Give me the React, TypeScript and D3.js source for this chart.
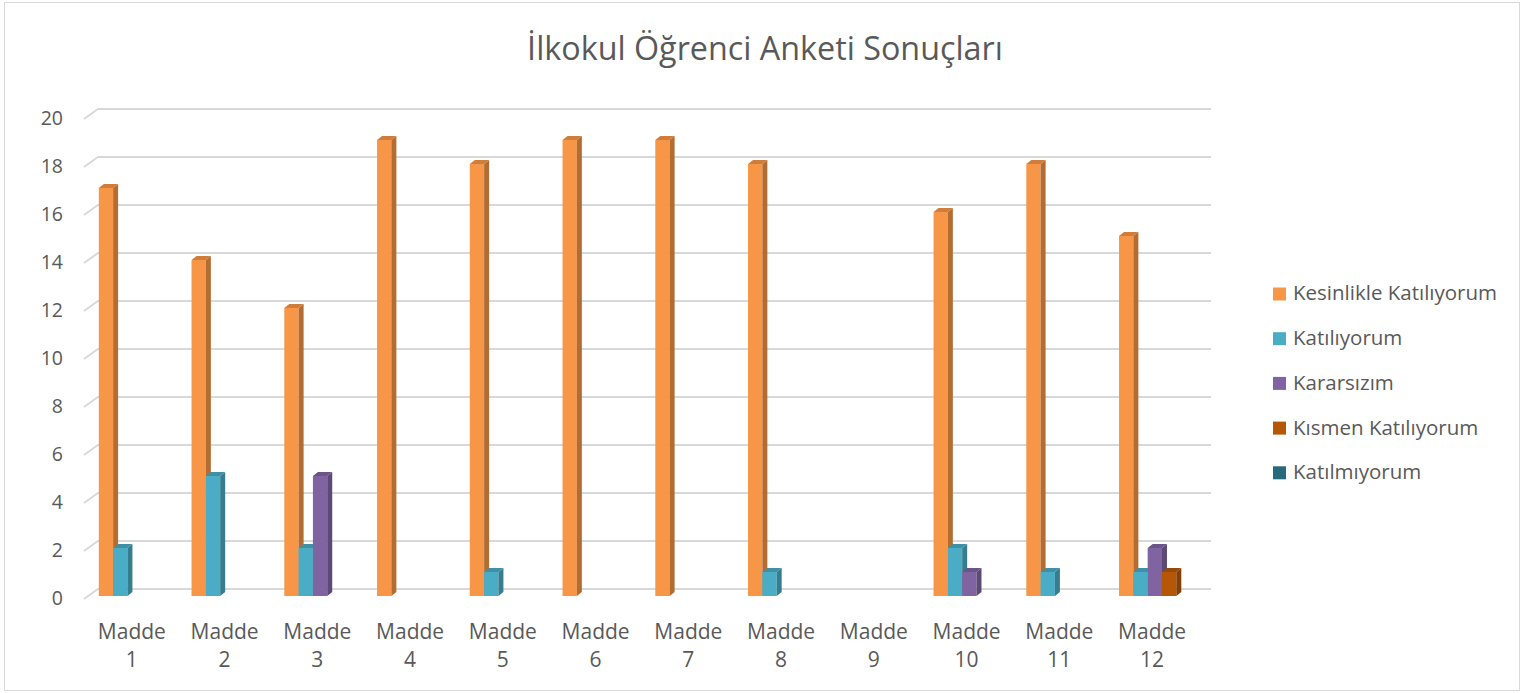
import * as d3 from "d3";
import { useEffect, useRef } from "react";

const title = "İlkokul Öğrenci Anketi Sonuçları";
const categories = ["1", "2", "3", "4", "5", "6", "7", "8", "9", "10", "11", "12"].map((n) => `Madde ${n}`);
const seriesNames = ["Kesinlikle Katılıyorum", "Katılıyorum", "Kararsızım", "Kısmen Katılıyorum", "Katılmıyorum"];
const kesinlikle = [17, 14, 12, 19, 18, 19, 19, 18, 0, 16, 18, 15];
const katiliyorum = [2, 5, 2, 0, 1, 0, 0, 1, 0, 2, 1, 1];
const kararsizim = [0, 0, 5, 0, 0, 0, 0, 0, 0, 1, 0, 2];
const kismen = [0, 0, 0, 0, 0, 0, 0, 0, 0, 0, 0, 1];
const katilmiyorum = [0, 0, 0, 0, 0, 0, 0, 0, 0, 0, 0, 0];
const seriesValues = [kesinlikle, katiliyorum, kararsizim, kismen, katilmiyorum];
const colors = ["#F79646", "#4BACC6", "#8064A2", "#B65708", "#276A7C"];
const yTicks = [0, 2, 4, 6, 8, 10, 12, 14, 16, 18, 20];

export default function App() {
  const ref = useRef<SVGSVGElement>(null);

  useEffect(() => {
    const el = ref.current;
    if (!el) return;
    const svg = d3.select(el);
    svg.selectAll("*").remove();

    const W = 1523, H = 693;
    const font = "'Open Sans', sans-serif";
    const textColor = "#595959";

    svg.append("rect")
      .attr("x", 4.5).attr("y", 2.5).attr("width", W - 8).attr("height", H - 5)
      .attr("fill", "#fff").attr("stroke", "#d9d9d9");

    svg.append("text")
      .attr("x", 765).attr("y", 60)
      .attr("text-anchor", "middle")
      .style("font-family", font).style("font-size", "32.3px")
      .attr("fill", textColor)
      .text(title);

    // front plane scales; back wall is shifted by depth
    const depthX = 14, depthY = 10;
    const x = d3.scaleBand<string>().domain(categories).range([84, 1197]).padding(0);
    const y = d3.scaleLinear().domain([0, 20]).range([599, 119]);
    const inner = d3.scaleBand<number>()
      .domain(d3.range(seriesNames.length))
      .range([10.6, x.bandwidth() - 10.6]);

    // gridlines with 3D wall edge
    const grid = svg.append("g");
    yTicks.forEach((t) => {
      const yf = y(t);
      grid.append("path")
        .attr("d", `M${x.range()[0]},${yf}L${x.range()[0] + depthX},${yf - depthY}L${x.range()[1] + depthX},${yf - depthY}`)
        .attr("fill", "none").attr("stroke", "#d9d9d9").attr("stroke-width", 2);
      grid.append("text")
        .attr("x", 63).attr("y", yf + 1)
        .attr("text-anchor", "end").attr("dominant-baseline", "middle")
        .style("font-family", font).style("font-size", "19.5px")
        .attr("fill", textColor)
        .text(t);
    });

    // bars
    const f = 0.3;
    const offX = depthX * f, offY = depthY * f;
    const bdx = 5, bdy = 4;
    const bars = svg.append("g");
    categories.forEach((c, ci) => {
      seriesValues.forEach((vals, si) => {
        const v = vals[ci];
        if (!v) return;
        const x0 = (x(c) ?? 0) + offX + (inner(si) ?? 0);
        const w = inner.bandwidth();
        const top = y(v) - offY;
        const bottom = y(0) - offY;
        const base = d3.color(colors[si])!;
        bars.append("rect")
          .attr("x", x0).attr("y", top).attr("width", w).attr("height", bottom - top)
          .attr("fill", colors[si]);
        bars.append("path")
          .attr("d", `M${x0 + w},${top}L${x0 + w + bdx},${top - bdy}L${x0 + w + bdx},${bottom - bdy}L${x0 + w},${bottom}Z`)
          .attr("fill", base.darker(0.9).toString());
        bars.append("path")
          .attr("d", `M${x0},${top}L${x0 + bdx},${top - bdy}L${x0 + w + bdx},${top - bdy}L${x0 + w},${top}Z`)
          .attr("fill", base.darker(0.5).toString());
      });
    });

    // category labels
    categories.forEach((c) => {
      const cx = (x(c) ?? 0) + x.bandwidth() / 2 + 1.5;
      const parts = c.split(" ");
      const t = svg.append("text")
        .attr("text-anchor", "middle")
        .style("font-family", font).style("font-size", "21px")
        .attr("fill", textColor);
      t.append("tspan").attr("x", cx).attr("y", 639).text(parts[0]);
      t.append("tspan").attr("x", cx).attr("y", 667).text(parts[1]);
    });

    // legend
    const legend = svg.append("g");
    seriesNames.forEach((name, i) => {
      const ly = 294 + i * 44.7;
      legend.append("rect")
        .attr("x", 1273).attr("y", ly - 6.5).attr("width", 13).attr("height", 13)
        .attr("fill", colors[i]);
      legend.append("text")
        .attr("x", 1293).attr("y", ly + 1)
        .attr("dominant-baseline", "middle")
        .style("font-family", font).style("font-size", "20.5px")
        .attr("fill", textColor)
        .text(name);
    });
  }, []);

  return (
    <svg ref={ref} width={1523} height={693}
      style={{ position: "absolute", left: 0, top: 0, background: "#fff" }} />
  );
}
